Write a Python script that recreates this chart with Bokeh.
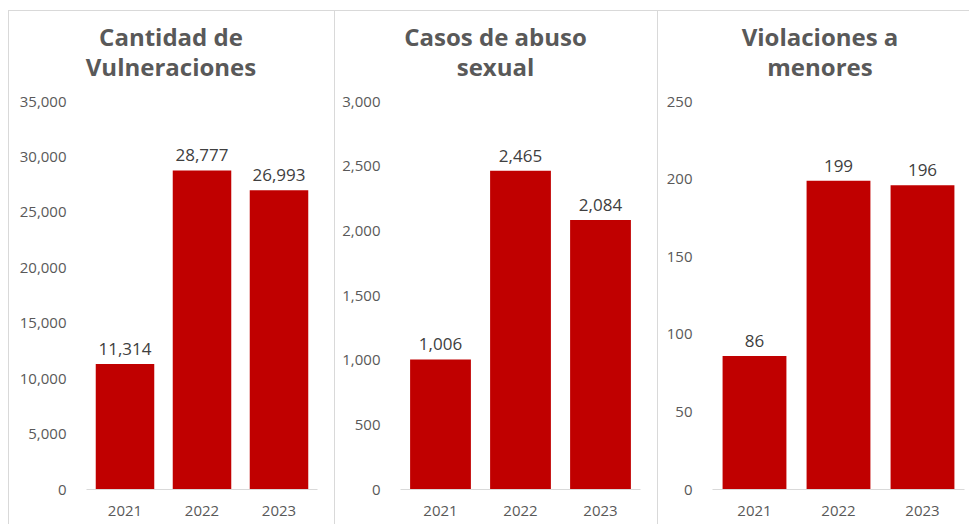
from bokeh.plotting import figure
from bokeh.models import Range1d, FactorRange, NumeralTickFormatter, ColumnDataSource, SingleIntervalTicker, Div
from bokeh.layouts import row, column
from bokeh.embed import file_html
from bokeh.resources import INLINE

years = ["2021", "2022", "2023"]
vulneraciones = [11314, 28777, 26993]
abuso_sexual = [1006, 2465, 2084]
violaciones = [86, 199, 196]

titles = [["Cantidad de", "Vulneraciones"], ["Casos de abuso", "sexual"], ["Violaciones a", "menores"]]
series = [vulneraciones, abuso_sexual, violaciones]
y_max = [35000, 3000, 250]
y_step = [5000, 500, 50]

FONT = "Open Sans"
BAR = "#C00000"
TICK = "#595959"
LABEL = "#404040"
BORDER = "#d9d9d9"

widths = [326, 323, 312]
lefts = [78, 66, 55]
rights = [17, 17, 5]
title_pad = [0, 0, 14]
TITLE_H = 76
H = 438
TOP = 15
BOTTOM = 35

panels = []
for i in range(3):
    html = ("<div style=\"box-sizing:border-box;width:%dpx;padding-top:12px;padding-left:%dpx;"
            "text-align:center;font-family:'Open Sans';font-weight:bold;font-size:24px;"
            "line-height:30px;color:%s;white-space:nowrap;\">%s</div>"
            % (widths[i], title_pad[i], TICK, "<br>".join(titles[i])))
    t = Div(text=html, width=widths[i], height=TITLE_H, margin=0, styles={"overflow": "hidden"})

    p = figure(x_range=FactorRange(*years, range_padding=0), y_range=Range1d(0, y_max[i]),
               width=widths[i], height=H, output_backend="svg", toolbar_location=None,
               min_border_left=lefts[i], min_border_right=rights[i],
               min_border_top=TOP, min_border_bottom=BOTTOM,
               background_fill_color=None, border_fill_color=None,
               outline_line_color=None, margin=0)
    src = ColumnDataSource(dict(x=years, y=series[i], t=[f"{v:,}" for v in series[i]]))
    p.vbar(x="x", top="y", width=0.76, source=src, fill_color=BAR, line_color=None)
    p.text(x="x", y="y", text="t", source=src, text_align="center", text_baseline="middle",
           y_offset=-15, text_font_size="17px", text_color=LABEL, text_font={"value": FONT})
    p.grid.visible = False
    p.yaxis.ticker = SingleIntervalTicker(interval=y_step[i])
    p.yaxis.formatter = NumeralTickFormatter(format="0,0")
    p.yaxis.axis_line_color = None
    p.yaxis.major_tick_line_color = None
    p.yaxis.minor_tick_line_color = None
    p.yaxis.major_label_standoff = 14
    p.xaxis.axis_line_color = BORDER
    p.xaxis.major_tick_line_color = None
    p.xaxis.minor_tick_line_color = None
    p.xaxis.major_label_standoff = 10
    for ax in (p.xaxis, p.yaxis):
        ax.major_label_text_font = FONT
        ax.major_label_text_font_size = "15px"
        ax.major_label_text_color = TICK
    panels.append(column(t, p, spacing=0, margin=0,
                         styles={"box-shadow": "inset 1px 1px 0 0 " + BORDER}))

layout = row(*panels, spacing=0, margin=0, styles={"margin-left": "8px", "margin-top": "10px"})
open("out.html", "w").write(file_html(layout, INLINE))
